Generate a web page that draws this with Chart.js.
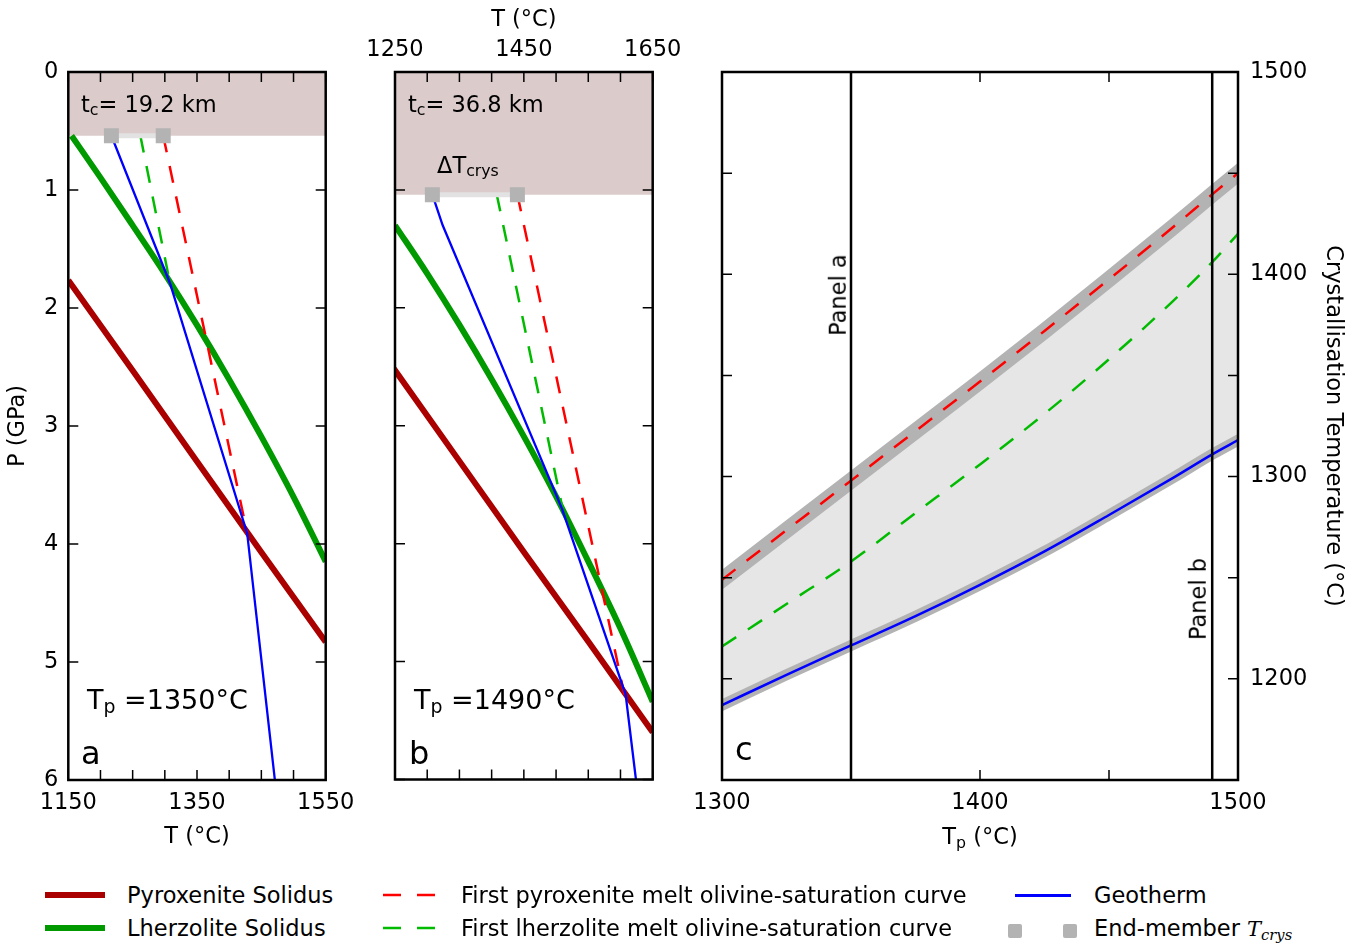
<!DOCTYPE html>
<html><head><meta charset="utf-8">
<script src="https://cdn.jsdelivr.net/npm/chart.js@4.4.1/dist/chart.umd.min.js"></script>
<style>
body{margin:0;background:#fff;}
#wrap{position:relative;width:1356px;height:945px;overflow:hidden;font-family:"DejaVu Sans";color:#000;background:#fff;}
canvas{position:absolute;}
.t{position:absolute;white-space:nowrap;font-size:22.5px;line-height:1;font-family:"DejaVu Sans";}
.sb{font-size:0.7em;position:relative;top:0.25em;}
.rot{position:absolute;white-space:nowrap;font-size:22.5px;line-height:1;transform:translate(-50%,-50%) rotate(-90deg);}
.ln{position:absolute;}
</style></head>
<body><div id="wrap">
<canvas id="ca" width="380" height="870" style="left:0;top:0"></canvas>
<canvas id="cb" width="360" height="800" style="left:350px;top:0"></canvas>
<canvas id="cc" width="676" height="870" style="left:680px;top:0"></canvas>

<div class="t" style="left:81px;top:92.5px;">t<span class="sb">c</span>= 19.2 km</div>
<div class="t" style="left:408px;top:92.5px;">t<span class="sb">c</span>= 36.8 km</div>
<div class="t" style="left:437px;top:153.5px;">ΔT<span class="sb">crys</span></div>
<div class="t" style="left:87px;top:685.5px;font-size:27px;">T<span class="sb">p</span> =1350°C</div>
<div class="t" style="left:414px;top:685.5px;font-size:27px;">T<span class="sb">p</span> =1490°C</div>
<div class="t" style="left:81px;top:737px;font-size:32px;">a</div>
<div class="t" style="left:409px;top:737px;font-size:32px;">b</div>
<div class="t" style="left:735px;top:733px;font-size:32px;">c</div>
<div class="rot" style="left:838px;top:295px;">Panel a</div>
<div class="rot" style="left:1198px;top:599px;">Panel b</div>
<div class="t" style="left:980px;top:825px;transform:translateX(-50%);">T<span class="sb">p</span> (°C)</div>

<!-- legend -->
<div class="ln" style="left:45px;top:892px;width:60px;height:6px;background:#aa0000;"></div>
<div class="ln" style="left:45px;top:925px;width:60px;height:6px;background:#009900;"></div>
<svg class="ln" style="left:383px;top:885px;" width="54" height="20"><line x1="0" y1="10" x2="52" y2="10" stroke="#ff0000" stroke-width="2.5" stroke-dasharray="18 16"/></svg>
<svg class="ln" style="left:383px;top:918px;" width="54" height="20"><line x1="0" y1="10" x2="52" y2="10" stroke="#00bb00" stroke-width="2.5" stroke-dasharray="18 16"/></svg>
<div class="ln" style="left:1015px;top:893.5px;width:56px;height:3px;background:#0000ff;"></div>
<div class="ln" style="left:1008px;top:924px;width:14px;height:14px;background:#b3b3b3;border-radius:2px;"></div>
<div class="ln" style="left:1063px;top:924px;width:14px;height:14px;background:#b3b3b3;border-radius:2px;"></div>
<div class="t" style="left:127px;top:884px;">Pyroxenite Solidus</div>
<div class="t" style="left:127px;top:917px;">Lherzolite Solidus</div>
<div class="t" style="left:461px;top:884px;">First pyroxenite melt olivine-saturation curve</div>
<div class="t" style="left:461px;top:917px;">First lherzolite melt olivine-saturation curve</div>
<div class="t" style="left:1094px;top:884px;">Geotherm</div>
<div class="t" style="left:1094px;top:917px;">End-member <i style="font-family:'DejaVu Serif';font-size:21px;">T<span class="sb">crys</span></i></div>
</div>
<script>
// ---------- data ----------
// Solidi, shared by panels a and b: temperature (°C) vs pressure (GPa)
const pyroxSolT = [1150, 1250, 1350, 1450, 1550, 1650];
const pyroxSolP = [1.765, 2.53, 3.30, 4.07, 4.83, 5.60];
const lherzSolT = [1155, 1200, 1250, 1300, 1350, 1400, 1450, 1500, 1550, 1600, 1650];
const lherzSolP = [0.54, 0.895, 1.30, 1.71, 2.145, 2.605, 3.09, 3.60, 4.15, 4.72, 5.34];

// Panel a (Tp = 1350 °C, tc = 19.2 km)
const aCrustP = 0.54;
const aGeoT = [1217, 1308, 1428, 1471];
const aGeoP = [0.54, 1.79, 3.91, 6.0];
const aPyxOlT = [1297.5, 1428];
const aPyxOlP = [0.54, 3.91];
const aLhzOlT = [1262, 1308];
const aLhzOlP = [0.54, 1.79];
const aEndT = [1217, 1297.5];

// Panel b (Tp = 1490 °C, tc = 36.8 km)
const bCrustP = 1.04;
const bGeoT = [1308, 1324, 1509, 1608, 1624];
const bGeoP = [1.04, 1.30, 3.70, 5.28, 6.0];
const bPyxOlT = [1440, 1606];
const bPyxOlP = [1.04, 5.28];
const bLhzOlT = [1408, 1510];
const bLhzOlP = [1.04, 3.70];
const bEndT = [1308, 1440];

// Panel c: crystallisation temperature vs potential temperature
const cTp  = [1300, 1325, 1350, 1375, 1400, 1425, 1450, 1475, 1490, 1500];
const cPyx = [1249, 1273.5, 1298, 1322.5, 1347, 1372, 1397.5, 1423.5, 1439.5, 1450];
const cLhz = [1216, 1237, 1258, 1282, 1306, 1331, 1358, 1387, 1406, 1420];
const cGeo = [1187, 1202, 1216.5, 1231, 1246.5, 1263, 1281, 1299.5, 1311, 1318];
const cPanelTp = [1350, 1490];

// Ticks
const aXTicks = [1150, 1200, 1250, 1300, 1350, 1400, 1450, 1500, 1550];
const aXLabels = [1150, 1350, 1550];
const bXTicks = [1250, 1300, 1350, 1400, 1450, 1500, 1550, 1600, 1650];
const bXLabels = [1250, 1450, 1650];
const pTicks = [0, 1, 2, 3, 4, 5, 6];
const cXTicks = [1300, 1350, 1400, 1450, 1500];
const cXLabels = [1300, 1400, 1500];
const cYTicks = [1150, 1200, 1250, 1300, 1350, 1400, 1450, 1500];
const cYLabels = [1200, 1300, 1400, 1500];

// ---------- styles ----------
const PYX = '#aa0000', LHZ = '#009900', RED = '#ff0000', LGRN = '#00bb00', BLUE = '#0000ff';
const PINK = '#dbcbcb', SQ = '#b3b3b3', BAR = '#e2e2e2', FILL = '#e6e6e6', BAND = '#b3b3b3';
const F = {family: '"DejaVu Sans"', size: 22.5};
const DASH = [17, 14];
const NOGRID = {display: false, drawTicks: false};

const pts = (xs, ys) => xs.map((x, i) => ({x: x, y: ys[i]}));
const fixTicks = arr => s => { s.ticks = arr.map(v => ({value: v})); };
const lab = arr => v => arr.includes(v) ? String(v) : '';

const frameTicks = {
  id: 'frameTicks',
  afterDraw(chart, args, o) {
    const {ctx, chartArea: a} = chart;
    const xs = chart.scales.x, ys = chart.scales.y;
    const L = 10;
    ctx.save();
    ctx.strokeStyle = '#000';
    ctx.lineWidth = 1.5;
    ctx.beginPath();
    (o.x || []).forEach(v => {
      const p = xs.getPixelForValue(v);
      ctx.moveTo(p, a.top); ctx.lineTo(p, a.top + L);
      ctx.moveTo(p, a.bottom); ctx.lineTo(p, a.bottom - L);
    });
    (o.y || []).forEach(v => {
      const p = ys.getPixelForValue(v);
      ctx.moveTo(a.left, p); ctx.lineTo(a.left + L, p);
      ctx.moveTo(a.right, p); ctx.lineTo(a.right - L, p);
    });
    ctx.stroke();
    ctx.lineWidth = 2.5;
    ctx.strokeRect(a.left, a.top, a.right - a.left, a.bottom - a.top);
    ctx.restore();
  }
};

function ptDatasets(crustP, geoT, geoP, pyxT, pyxP, lhzT, lhzP, endT, xMin, xMax) {
  return [
    {data: pts(endT, [crustP, crustP]), showLine: false, pointStyle: 'rect', pointRadius: 10.6,
     pointBackgroundColor: SQ, pointBorderWidth: 0, order: 1},
    {data: pts(endT, [crustP, crustP]), borderColor: BAR, borderWidth: 5, order: 2},
    {data: pts(geoT, geoP), borderColor: BLUE, borderWidth: 2.3, order: 3},
    {data: pts(pyxT, pyxP), borderColor: RED, borderWidth: 2.5, borderDash: DASH, order: 4},
    {data: pts(lhzT, lhzP), borderColor: LGRN, borderWidth: 2.5, borderDash: DASH, order: 5},
    {data: pts(lherzSolT, lherzSolP).filter(p => p.y >= crustP), borderColor: LHZ, borderWidth: 6,
     cubicInterpolationMode: 'monotone', order: 6},
    {data: pts(pyroxSolT, pyroxSolP), borderColor: PYX, borderWidth: 6, order: 7},
    {data: pts([xMin, xMax], [crustP, crustP]), borderWidth: 0, borderColor: 'rgba(0,0,0,0)',
     backgroundColor: PINK, fill: {value: 0}, order: 10}
  ];
}

const common = {
  responsive: false, animation: false, devicePixelRatio: 1, events: [],
  elements: {point: {radius: 0}, line: {tension: 0, borderCapStyle: 'butt'}},
};

// Panel a
new Chart(document.getElementById('ca'), {
  type: 'line',
  data: {datasets: ptDatasets(aCrustP, aGeoT, aGeoP, aPyxOlT, aPyxOlP, aLhzOlT, aLhzOlP, aEndT,
                              aXTicks[0], aXTicks[aXTicks.length - 1])},
  plugins: [frameTicks],
  options: Object.assign({}, common, {
    layout: {padding: {top: 72, right: 54.3, left: 0, bottom: 0}},
    plugins: {legend: {display: false}, tooltip: {enabled: false}, frameTicks: {x: aXTicks, y: pTicks}},
    scales: {
      x: {type: 'linear', position: 'bottom', min: 1150, max: 1550,
          grid: NOGRID, border: {display: false},
          afterBuildTicks: fixTicks(aXTicks),
          ticks: {autoSkip: false, maxRotation: 0, minRotation: 0, padding: 9.5, color: '#000', font: F,
                  callback: lab(aXLabels)},
          title: {display: true, text: 'T (°C)', color: '#000', font: F, padding: {top: 0, bottom: 19.5}},
          afterFit: s => { s.height = 90; }},
      y: {type: 'linear', position: 'left', reverse: true, min: 0, max: 6,
          grid: NOGRID, border: {display: false},
          afterBuildTicks: fixTicks(pTicks),
          ticks: {autoSkip: false, padding: 10, color: '#000', font: F, callback: lab(pTicks)},
          title: {display: true, text: 'P (GPa)', color: '#000', font: F, padding: {top: 5, bottom: 0}},
          afterFit: s => { s.width = 68.3; }}
    }
  })
});

// Panel b
new Chart(document.getElementById('cb'), {
  type: 'line',
  data: {datasets: ptDatasets(bCrustP, bGeoT, bGeoP, bPyxOlT, bPyxOlP, bLhzOlT, bLhzOlP, bEndT,
                              bXTicks[0], bXTicks[bXTicks.length - 1])},
  plugins: [frameTicks],
  options: Object.assign({}, common, {
    layout: {padding: {top: 0, right: 57.3, left: 45, bottom: 20.5}},
    plugins: {legend: {display: false}, tooltip: {enabled: false}, frameTicks: {x: bXTicks, y: pTicks}},
    scales: {
      x: {type: 'linear', position: 'top', min: 1250, max: 1650,
          grid: NOGRID, border: {display: false},
          afterBuildTicks: fixTicks(bXTicks),
          ticks: {autoSkip: false, maxRotation: 0, minRotation: 0, padding: 8.5, color: '#000', font: F,
                  callback: lab(bXLabels)},
          title: {display: true, text: 'T (°C)', color: '#000', font: F, padding: {top: 7, bottom: 0}},
          afterFit: s => { s.height = 72; }},
      y: {type: 'linear', display: false, reverse: true, min: 0, max: 6}
    }
  })
});

// Panel c
new Chart(document.getElementById('cc'), {
  type: 'line',
  data: {datasets: [
    {data: pts([cPanelTp[0], cPanelTp[0]], [cYTicks[0], cYTicks[cYTicks.length - 1]]), borderColor: '#000', borderWidth: 2.5, order: 0},
    {data: pts([cPanelTp[1], cPanelTp[1]], [cYTicks[0], cYTicks[cYTicks.length - 1]]), borderColor: '#000', borderWidth: 2.5, order: 0},
    {data: pts(cTp, cGeo), borderColor: BLUE, borderWidth: 2.5, cubicInterpolationMode: 'monotone', order: 1},
    {data: pts(cTp, cLhz), borderColor: LGRN, borderWidth: 2.5, borderDash: DASH, cubicInterpolationMode: 'monotone', order: 2},
    {data: pts(cTp, cPyx), borderColor: RED, borderWidth: 2.5, borderDash: DASH, cubicInterpolationMode: 'monotone', order: 3},
    {data: pts(cTp, cGeo), borderColor: BAND, borderWidth: 11, borderCapStyle: 'square', clip: 0, cubicInterpolationMode: 'monotone', order: 4},
    {data: pts(cTp, cPyx), borderColor: BAND, borderWidth: 16, borderCapStyle: 'square', clip: 0, cubicInterpolationMode: 'monotone', order: 5},
    {data: pts(cTp, cPyx), borderWidth: 0, borderColor: 'rgba(0,0,0,0)', backgroundColor: FILL, fill: 2, cubicInterpolationMode: 'monotone', order: 6}
  ]},
  plugins: [frameTicks],
  options: Object.assign({}, common, {
    layout: {padding: {top: 72, right: 0, left: 42, bottom: 0}},
    plugins: {legend: {display: false}, tooltip: {enabled: false}, filler: {propagate: false},
              frameTicks: {x: cXTicks, y: cYTicks}},
    scales: {
      x: {type: 'linear', position: 'bottom', min: 1300, max: 1500,
          grid: NOGRID, border: {display: false},
          afterBuildTicks: fixTicks(cXTicks),
          ticks: {autoSkip: false, maxRotation: 0, minRotation: 0, padding: 9.5, color: '#000', font: F,
                  callback: lab(cXLabels)},
          afterFit: s => { s.height = 90; }},
      y: {type: 'linear', position: 'right', min: 1150, max: 1500,
          grid: NOGRID, border: {display: false},
          afterBuildTicks: fixTicks(cYTicks),
          ticks: {autoSkip: false, padding: 12, color: '#000', font: F, callback: lab(cYLabels)},
          title: {display: true, text: 'Crystallisation Temperature (°C)', color: '#000', font: F, padding: {top: 9.5, bottom: 0}},
          afterFit: s => { s.width = 118; }}
    }
  })
});
</script>
</body></html>
